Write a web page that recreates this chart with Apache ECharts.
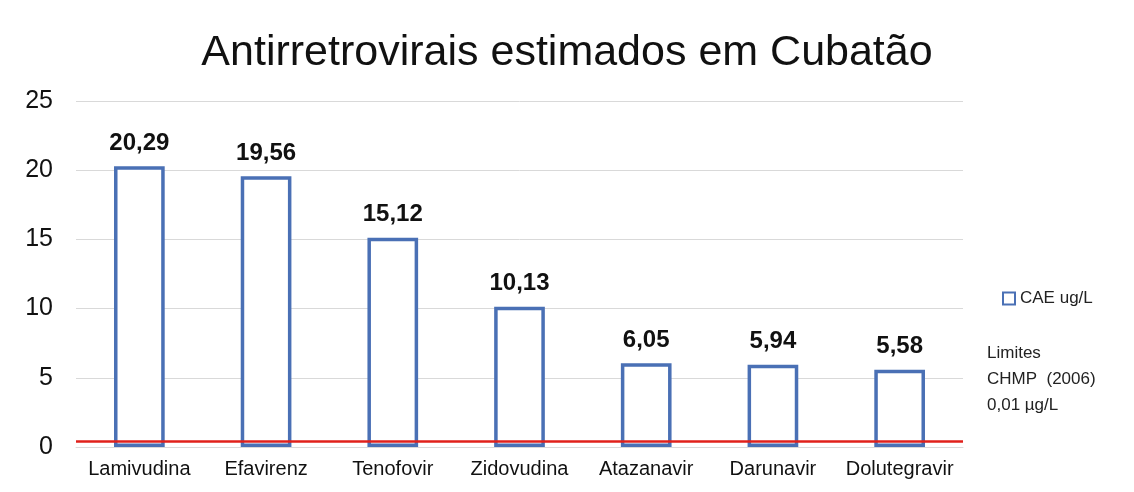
<!DOCTYPE html>
<html>
<head>
<meta charset="utf-8">
<script src="https://cdn.jsdelivr.net/npm/echarts@6/dist/echarts.min.js"></script>
<style>
  html, body { margin: 0; padding: 0; background: #fff; }
  #chart { width: 1134px; height: 492px; }
</style>
</head>
<body>
<div id="chart"></div>
<script>
// Datos del gráfico
const categorias = ['Lamivudina', 'Efavirenz', 'Tenofovir', 'Zidovudina', 'Atazanavir', 'Darunavir', 'Dolutegravir'];
const valoresCAE = [20.29, 19.56, 15.12, 10.13, 6.05, 5.94, 5.58];
const limiteCHMP = 0.4; // posición de la línea roja tal como se dibuja
const nombreSerie = 'CAE ug/L';
const nombreLimite = 'Limites\nCHMP  (2006)\n0,01 µg/L';

const azul = '#4a70b5';
const fuente = 'Liberation Sans, Arial, sans-serif';

const myChart = echarts.init(document.getElementById('chart'));

const option = {
  backgroundColor: '#fff',
  title: {
    text: 'Antirretrovirais estimados em Cubatão',
    left: 'center',
    top: 27,
    textStyle: { fontFamily: fuente, fontSize: 43, fontWeight: 'normal', color: '#111' }
  },
  legend: [
    {
      data: [{ name: nombreSerie, icon: 'rect' }],
      left: 997,
      top: 285,
      itemWidth: 12,
      itemHeight: 12,
      itemGap: 4,
      textStyle: { fontFamily: fuente, fontSize: 17, color: '#222' }
    },
    {
      data: [{ name: nombreLimite, icon: 'none' }],
      left: 977,
      top: 335,
      itemWidth: 0,
      textStyle: { fontFamily: fuente, fontSize: 17, color: '#222', lineHeight: 26 }
    }
  ],
  grid: { left: 76, right: 171, top: 101, bottom: 45 },
  xAxis: {
    type: 'category',
    data: categorias,
    axisLine: { lineStyle: { color: '#d9d9d9' } },
    axisTick: { show: false },
    axisLabel: { fontFamily: fuente, fontSize: 20, color: '#111', margin: 12, interval: 0 }
  },
  yAxis: {
    type: 'value',
    min: 0,
    max: 25,
    interval: 5,
    axisLine: { show: false },
    axisTick: { show: false },
    splitLine: { lineStyle: { color: '#d9d9d9' } },
    axisLabel: { fontFamily: fuente, fontSize: 25, color: '#111', margin: 23 }
  },
  series: [
    {
      name: nombreSerie,
      type: 'bar',
      data: valoresCAE,
      barWidth: '40%',
      itemStyle: { color: '#fff', borderColor: azul, borderWidth: 3.5 },
      label: {
        show: true,
        position: 'top',
        distance: 11,
        fontFamily: fuente,
        fontSize: 24,
        fontWeight: 'bold',
        color: '#111',
        formatter: (p) => p.value.toFixed(2).replace('.', ',')
      }
    },
    {
      name: nombreLimite,
      type: 'line',
      data: [],
      itemStyle: { color: '#e0201b' },
      markLine: {
        silent: true,
        symbol: 'none',
        label: { show: false },
        lineStyle: { color: '#e0201b', width: 2.5, type: 'solid' },
        data: [{ yAxis: limiteCHMP }]
      },
      z: 3
    }
  ]
};

myChart.setOption(option);
</script>
</body>
</html>
